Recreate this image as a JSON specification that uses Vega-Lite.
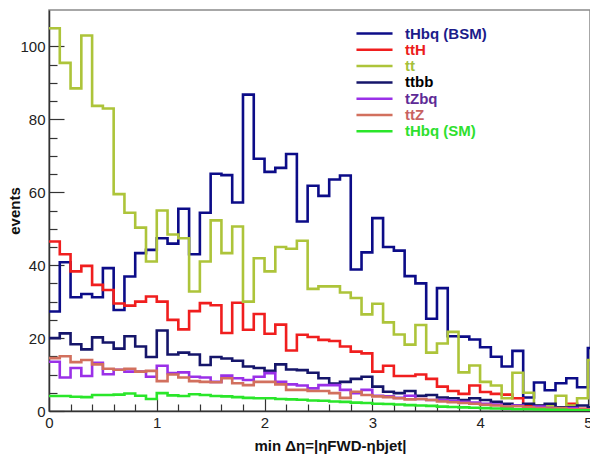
{
  "$schema": "https://vega.github.io/schema/vega-lite/v6.json",
  "autosize": {"type": "none"},
  "width": 541,
  "height": 401,
  "padding": {"left": 49, "top": 10, "right": 0, "bottom": 47},
  "background": "white",
  "config": {"view": {"stroke": "#8a8a8a", "strokeWidth": 1.5}, "font": "Liberation Sans"},
  "data": {"values": [
    {"x":0,"tHbq (BSM)":27.3,"ttH":46.5,"tt":105,"ttbb":20,"tZbq":13.5,"ttZ":14.5,"tHbq (SM)":4.1},
    {"x":0.1,"tHbq (BSM)":40.8,"ttH":43,"tt":95.5,"ttbb":21.3,"tZbq":9.2,"ttZ":15,"tHbq (SM)":4.1},
    {"x":0.2,"tHbq (BSM)":31.2,"ttH":38.3,"tt":88.5,"ttbb":18.3,"tZbq":11.8,"ttZ":13.4,"tHbq (SM)":3.9},
    {"x":0.3,"tHbq (BSM)":32.1,"ttH":39.8,"tt":103,"ttbb":16.9,"tZbq":9.6,"ttZ":14,"tHbq (SM)":3.8},
    {"x":0.4,"tHbq (BSM)":31.2,"ttH":34.6,"tt":83.7,"ttbb":20.2,"tZbq":13.2,"ttZ":12.8,"tHbq (SM)":4.4},
    {"x":0.5,"tHbq (BSM)":39.2,"ttH":33.2,"tt":83,"ttbb":18.8,"tZbq":10.1,"ttZ":11.6,"tHbq (SM)":4.4},
    {"x":0.6,"tHbq (BSM)":27.7,"ttH":29.5,"tt":59.5,"ttbb":17.1,"tZbq":11.3,"ttZ":11.3,"tHbq (SM)":4.5},
    {"x":0.7,"tHbq (BSM)":36.9,"ttH":28.9,"tt":54.4,"ttbb":20.5,"tZbq":10.8,"ttZ":11.6,"tHbq (SM)":4.8},
    {"x":0.8,"tHbq (BSM)":43.3,"ttH":30,"tt":50.3,"ttbb":17.7,"tZbq":10.8,"ttZ":10.8,"tHbq (SM)":4.2},
    {"x":0.9,"tHbq (BSM)":44.2,"ttH":31.4,"tt":41,"ttbb":14.8,"tZbq":9.4,"ttZ":11,"tHbq (SM)":3.3},
    {"x":1.0,"tHbq (BSM)":47.4,"ttH":30,"tt":55,"ttbb":22.1,"tZbq":12.4,"ttZ":8.2,"tHbq (SM)":4.9},
    {"x":1.1,"tHbq (BSM)":45.9,"ttH":25,"tt":48.4,"ttbb":15.5,"tZbq":10.4,"ttZ":10,"tHbq (SM)":4.3},
    {"x":1.2,"tHbq (BSM)":55.5,"ttH":22.4,"tt":47.4,"ttbb":16,"tZbq":10.6,"ttZ":9.2,"tHbq (SM)":4.1},
    {"x":1.3,"tHbq (BSM)":43,"ttH":27.4,"tt":32.8,"ttbb":15.5,"tZbq":9.4,"ttZ":8.2,"tHbq (SM)":4.6},
    {"x":1.4,"tHbq (BSM)":54.4,"ttH":29.6,"tt":41,"ttbb":12.6,"tZbq":9.2,"ttZ":8,"tHbq (SM)":4.4},
    {"x":1.5,"tHbq (BSM)":65.1,"ttH":29,"tt":52.3,"ttbb":14.8,"tZbq":8,"ttZ":7.9,"tHbq (SM)":4.1},
    {"x":1.6,"tHbq (BSM)":64.7,"ttH":21.4,"tt":43.3,"ttbb":14.4,"tZbq":9.7,"ttZ":9,"tHbq (SM)":4},
    {"x":1.7,"tHbq (BSM)":57.2,"ttH":29.7,"tt":50.6,"ttbb":13.8,"tZbq":9,"ttZ":7.6,"tHbq (SM)":3.8},
    {"x":1.8,"tHbq (BSM)":86.8,"ttH":22.3,"tt":30,"ttbb":12.2,"tZbq":8.5,"ttZ":7.1,"tHbq (SM)":3.6},
    {"x":1.9,"tHbq (BSM)":69.2,"ttH":26.6,"tt":41.9,"ttbb":11.8,"tZbq":9.4,"ttZ":8,"tHbq (SM)":3.5},
    {"x":2.0,"tHbq (BSM)":65.6,"ttH":21.2,"tt":38.3,"ttbb":11,"tZbq":10.4,"ttZ":8,"tHbq (SM)":3.5},
    {"x":2.1,"tHbq (BSM)":66.7,"ttH":23.7,"tt":45,"ttbb":12.8,"tZbq":8,"ttZ":7.3,"tHbq (SM)":3.3},
    {"x":2.2,"tHbq (BSM)":70.5,"ttH":16.6,"tt":44.5,"ttbb":11.4,"tZbq":7.3,"ttZ":5.8,"tHbq (SM)":3.2},
    {"x":2.3,"tHbq (BSM)":52,"ttH":20.9,"tt":46.7,"ttbb":11.2,"tZbq":7,"ttZ":5.8,"tHbq (SM)":3.1},
    {"x":2.4,"tHbq (BSM)":61.8,"ttH":20.3,"tt":33.5,"ttbb":10.5,"tZbq":6.2,"ttZ":5.5,"tHbq (SM)":2.9},
    {"x":2.5,"tHbq (BSM)":59,"ttH":19.5,"tt":34.2,"ttbb":9,"tZbq":7.1,"ttZ":5.5,"tHbq (SM)":2.8},
    {"x":2.6,"tHbq (BSM)":63.5,"ttH":19.2,"tt":34.2,"ttbb":7.5,"tZbq":7.1,"ttZ":4.9,"tHbq (SM)":2.6},
    {"x":2.7,"tHbq (BSM)":64.6,"ttH":17.7,"tt":32.5,"ttbb":8,"tZbq":5.8,"ttZ":3.6,"tHbq (SM)":2.5},
    {"x":2.8,"tHbq (BSM)":38.8,"ttH":16.3,"tt":31,"ttbb":8.8,"tZbq":4.9,"ttZ":5.3,"tHbq (SM)":2.3},
    {"x":2.9,"tHbq (BSM)":43.5,"ttH":15.8,"tt":26.5,"ttbb":9.4,"tZbq":5.8,"ttZ":4.4,"tHbq (SM)":2.2},
    {"x":3.0,"tHbq (BSM)":52.9,"ttH":10.8,"tt":29.4,"ttbb":6.7,"tZbq":4.2,"ttZ":4,"tHbq (SM)":2},
    {"x":3.1,"tHbq (BSM)":45,"ttH":12.4,"tt":24.3,"ttbb":5.3,"tZbq":4,"ttZ":3.8,"tHbq (SM)":1.9},
    {"x":3.2,"tHbq (BSM)":44,"ttH":9.6,"tt":21,"ttbb":4.9,"tZbq":3.6,"ttZ":3.5,"tHbq (SM)":1.8},
    {"x":3.3,"tHbq (BSM)":37,"ttH":9.6,"tt":18.2,"ttbb":5.5,"tZbq":4.2,"ttZ":3.2,"tHbq (SM)":1.6},
    {"x":3.4,"tHbq (BSM)":35,"ttH":10,"tt":23.6,"ttbb":4.2,"tZbq":3.3,"ttZ":3.3,"tHbq (SM)":1.5},
    {"x":3.5,"tHbq (BSM)":25.3,"ttH":8.8,"tt":16,"ttbb":4.4,"tZbq":3,"ttZ":3,"tHbq (SM)":1.4},
    {"x":3.6,"tHbq (BSM)":33.7,"ttH":6.7,"tt":18.5,"ttbb":3.7,"tZbq":3,"ttZ":2.6,"tHbq (SM)":1.2},
    {"x":3.7,"tHbq (BSM)":20.5,"ttH":5.5,"tt":21.7,"ttbb":3.5,"tZbq":2.8,"ttZ":2.4,"tHbq (SM)":1.1},
    {"x":3.8,"tHbq (BSM)":20.4,"ttH":4.7,"tt":10.6,"ttbb":3,"tZbq":2.5,"ttZ":2.2,"tHbq (SM)":1},
    {"x":3.9,"tHbq (BSM)":19.6,"ttH":7,"tt":12.5,"ttbb":3.5,"tZbq":2.3,"ttZ":2,"tHbq (SM)":0.9},
    {"x":4.0,"tHbq (BSM)":17.5,"ttH":5.2,"tt":8,"ttbb":3,"tZbq":2,"ttZ":1.7,"tHbq (SM)":0.8},
    {"x":4.1,"tHbq (BSM)":14.9,"ttH":4.7,"tt":7,"ttbb":2.5,"tZbq":1.8,"ttZ":1.5,"tHbq (SM)":0.7},
    {"x":4.2,"tHbq (BSM)":12.2,"ttH":4.5,"tt":3.5,"ttbb":2,"tZbq":1.2,"ttZ":1.2,"tHbq (SM)":0.6},
    {"x":4.3,"tHbq (BSM)":16.5,"ttH":3.5,"tt":10.5,"ttbb":1.5,"tZbq":1.5,"ttZ":1.3,"tHbq (SM)":0.5},
    {"x":4.4,"tHbq (BSM)":3.7,"ttH":1.5,"tt":5,"ttbb":2,"tZbq":1,"ttZ":1,"tHbq (SM)":0.5},
    {"x":4.5,"tHbq (BSM)":7.8,"ttH":1,"tt":1.5,"ttbb":1.5,"tZbq":1.2,"ttZ":0.8,"tHbq (SM)":0.4},
    {"x":4.6,"tHbq (BSM)":5.7,"ttH":1.5,"tt":1.5,"ttbb":2,"tZbq":0.8,"ttZ":0.7,"tHbq (SM)":0.3},
    {"x":4.7,"tHbq (BSM)":7.6,"ttH":0.8,"tt":4.2,"ttbb":1,"tZbq":0.6,"ttZ":0.8,"tHbq (SM)":0.3},
    {"x":4.8,"tHbq (BSM)":9,"ttH":2,"tt":1.5,"ttbb":1,"tZbq":0.8,"ttZ":0.5,"tHbq (SM)":0.2},
    {"x":4.9,"tHbq (BSM)":6.5,"ttH":0.6,"tt":3.5,"ttbb":1.5,"tZbq":0.5,"ttZ":0.5,"tHbq (SM)":0.2},
    {"x":5.0,"tHbq (BSM)":17.3,"ttH":0.5,"tt":14,"ttbb":1,"tZbq":0.5,"ttZ":0.5,"tHbq (SM)":0.2},
    {"x":5.1,"tHbq (BSM)":17.3,"ttH":0.5,"tt":14,"ttbb":1,"tZbq":0.5,"ttZ":0.5,"tHbq (SM)":0.2}
  ]},
  "transform": [
    {"fold": ["tHbq (BSM)", "ttH", "tt", "ttbb", "tZbq", "ttZ", "tHbq (SM)"], "as": ["sample", "events"]}
  ],
  "mark": {"type": "line", "interpolate": "step-after", "strokeWidth": 2.6, "clip": true},
  "encoding": {
    "x": {
      "field": "x", "type": "quantitative",
      "scale": {"domain": [0, 5.02], "nice": false, "zero": false},
      "axis": {
        "title": "min Δη=|ηFWD-ηbjet|",
        "titleFont": "Liberation Sans", "titleFontSize": 15, "titleFontWeight": "bold", "titleColor": "#111",
        "titleX": 281, "titlePadding": 8,
        "values": [0,0.2,0.4,0.6,0.8,1,1.2,1.4,1.6,1.8,2,2.2,2.4,2.6,2.8,3,3.2,3.4,3.6,3.8,4,4.2,4.4,4.6,4.8,5],
        "labelExpr": "abs(datum.value - round(datum.value)) < 0.01 ? format(datum.value, 'd') : ''",
        "labelFont": "Liberation Sans", "labelFontSize": 15, "labelColor": "#222", "labelPadding": 17, "labelFlush": false,
        "tickSize": {"condition": {"test": "abs(datum.value - round(datum.value)) < 0.01", "value": -13}, "value": -7},
        "tickColor": "#333", "tickWidth": 1.2, "domainColor": "#333", "domainWidth": 1.5, "grid": false
      }
    },
    "y": {
      "field": "events", "type": "quantitative",
      "scale": {"domain": [0, 110], "nice": false},
      "axis": {
        "title": "events",
        "titleFont": "Liberation Sans", "titleFontSize": 15, "titleFontWeight": "bold", "titleColor": "#111",
        "titlePadding": -3,
        "values": [0,5,10,15,20,25,30,35,40,45,50,55,60,65,70,75,80,85,90,95,100,105],
        "labelExpr": "datum.value % 20 === 0 ? format(datum.value, 'd') : ''",
        "labelFont": "Liberation Sans", "labelFontSize": 15, "labelColor": "#222", "labelPadding": 19,
        "tickSize": {"condition": {"test": "datum.value % 20 === 0", "value": -15}, "value": -8},
        "tickColor": "#333", "tickWidth": 1.2, "domainColor": "#333", "domainWidth": 1.5, "grid": false
      }
    },
    "color": {
      "field": "sample", "type": "nominal",
      "scale": {
        "domain": ["tHbq (BSM)", "ttH", "tt", "ttbb", "tZbq", "ttZ", "tHbq (SM)"],
        "range": ["#0c0c88", "#f01e1e", "#adc43a", "#15156a", "#9a30e8", "#d2705e", "#2ae62a"]
      },
      "legend": {
        "orient": "none", "legendX": 306, "legendY": 16, "title": null,
        "symbolType": "stroke", "symbolSize": 1300, "symbolStrokeWidth": 2.5, "clipHeight": 15,
        "rowPadding": 0.3, "labelOffset": 11, "padding": 0,
        "labelFont": "Liberation Sans", "labelFontSize": 15, "labelFontWeight": "bold",
        "encode": {"labels": {"update": {"fill": {"signal": "datum.value === 'tHbq (BSM)' ? '#1c1c8a' : datum.value === 'ttH' ? '#ec1c1c' : datum.value === 'tt' ? '#a6c03a' : datum.value === 'ttbb' ? '#000000' : datum.value === 'tZbq' ? '#5e2a96' : datum.value === 'ttZ' ? '#c86262' : '#2ee02e'"}}}}
      }
    }
  }
}
